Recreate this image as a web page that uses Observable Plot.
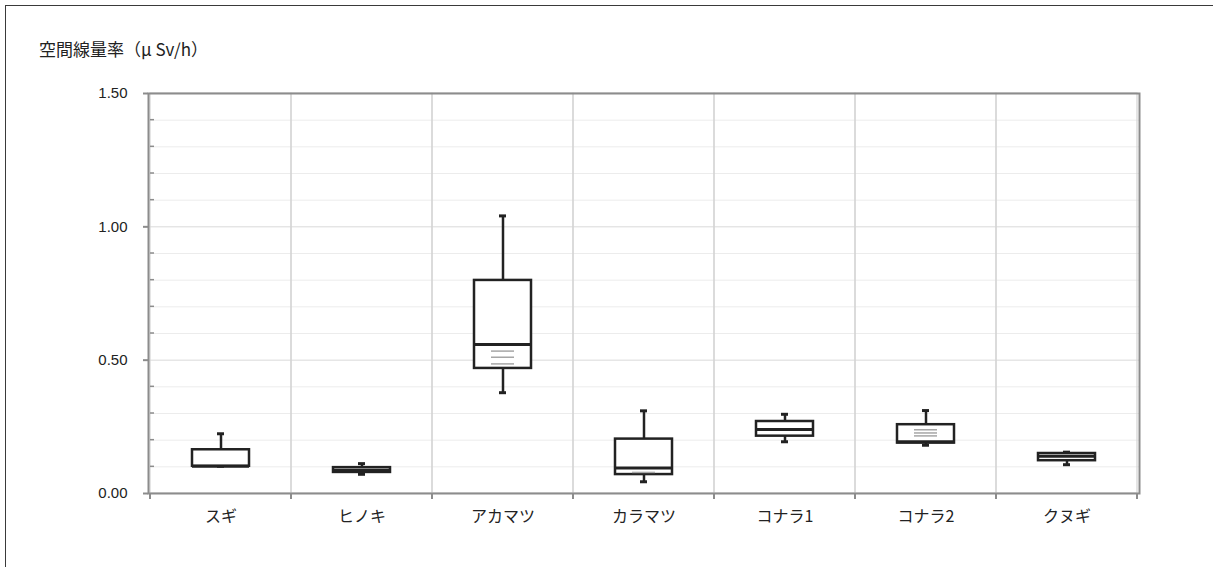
<!DOCTYPE html>
<html>
<head>
<meta charset="utf-8">
<script src="https://cdn.jsdelivr.net/npm/d3@7"></script>
<script src="https://cdn.jsdelivr.net/npm/@observablehq/plot@0.6"></script>
<style>
  html, body { margin: 0; padding: 0; background: #fff; overflow: hidden; }
  #wrap { position: relative; width: 1213px; height: 567px; overflow: hidden; }
  #border { position: absolute; left: 5px; top: 5px; width: 1300px; height: 700px;
            border-left: 1.5px solid #3a3a3a; border-top: 1.5px solid #3a3a3a; pointer-events: none; }
  #title { height: 70px; box-sizing: border-box; padding: 40px 0 0 39px;
           font: 17px "Noto Sans CJK JP", "Liberation Sans", sans-serif; color: #222; line-height: 17px; }
  #chart svg { display: block; }
</style>
</head>
<body>
<div id="wrap">
  <div id="border"></div>
  <div id="title">空間線量率（μ Sv/h）</div>
  <div id="chart"></div>
</div>
<script>
// ---- data ----
const categories = ["スギ", "ヒノキ", "アカマツ", "カラマツ", "コナラ1", "コナラ2", "クヌギ"];
const mins    = [0.102, 0.072, 0.378, 0.044, 0.194, 0.181, 0.108];
const q1s     = [0.102, 0.079, 0.469, 0.071, 0.215, 0.189, 0.123];
const medians = [0.102, 0.087, 0.559, 0.096, 0.240, 0.194, 0.140];
const q3s     = [0.164, 0.097, 0.799, 0.204, 0.270, 0.258, 0.150];
const maxs    = [0.224, 0.112, 1.041, 0.310, 0.297, 0.311, 0.155];

const innerPointCats = ["アカマツ", "アカマツ", "アカマツ", "カラマツ", "コナラ2", "コナラ2", "コナラ2"];
const innerPointVals = [0.534, 0.511, 0.486, 0.079, 0.239, 0.227, 0.216];

const majorTicks = [0, 0.5, 1.0, 1.5];
const minorTicks = [0.1, 0.2, 0.3, 0.4, 0.6, 0.7, 0.8, 0.9, 1.1, 1.2, 1.3, 1.4];

// ---- tables built from the arrays ----
const boxes = categories.map((c, i) => ({cat: c, min: mins[i], q1: q1s[i], med: medians[i], q3: q3s[i], max: maxs[i]}));
const points = innerPointCats.map((c, i) => ({cat: c, v: innerPointVals[i]}));

const W = 1213, H = 497;
const boxInset = 42, capInset = 67, pointInset = 59;
const ink = "#222";

const chart = Plot.plot({
  width: W,
  height: H,
  marginTop: 23,
  marginBottom: 74,
  marginLeft: 148,
  marginRight: 74,
  style: {fontFamily: '"Liberation Sans", "Noto Sans CJK JP", sans-serif', fontSize: "15px", color: "#222", background: "transparent"},
  x: {domain: categories, padding: 0, label: null},
  y: {domain: [0, 1.5], label: null},
  marks: [
    Plot.ruleY(minorTicks, {stroke: "#ececec", strokeWidth: 1}),
    Plot.ruleY([0.5, 1.0], {stroke: "#d9d9d9", strokeWidth: 1}),
    Plot.barY(categories, {x: d => d, y1: () => 0, y2: () => 1.5, fill: "none", stroke: "#d4d4d4", strokeWidth: 1.2}),
    Plot.frame({stroke: "#8c8c8c", strokeWidth: 2}),
    // whiskers
    Plot.ruleX(boxes, {x: "cat", y1: "q3", y2: "max", stroke: ink, strokeWidth: 2.5}),
    Plot.ruleX(boxes, {x: "cat", y1: "min", y2: "q1", stroke: ink, strokeWidth: 2.5}),
    Plot.tickY(boxes, {x: "cat", y: "max", stroke: ink, strokeWidth: 3, inset: capInset}),
    Plot.tickY(boxes, {x: "cat", y: "min", stroke: ink, strokeWidth: 3, inset: capInset}),
    // boxes
    Plot.barY(boxes, {x: "cat", y1: "q1", y2: "q3", fill: "white", stroke: ink, strokeWidth: 2.5, insetLeft: boxInset, insetRight: boxInset}),
    Plot.tickY(points, {x: "cat", y: "v", stroke: "#a6a6a6", strokeWidth: 1.5, inset: pointInset}),
    Plot.tickY(boxes, {x: "cat", y: "med", stroke: ink, strokeWidth: 3, inset: boxInset}),
    // axes
    Plot.axisY({ticks: majorTicks, tickFormat: d3.format(".2f"), tickSize: 5, tickPadding: 16, fontSize: 15, label: null, stroke: "#8c8c8c", strokeWidth: 2}),
    Plot.axisX({tickSize: 0, tickPadding: 17, fontSize: 16, label: null, fontFamily: '"Noto Sans CJK JP", sans-serif'})
  ]
});

document.getElementById("chart").appendChild(chart);

// ticks at band boundaries (x) and inner minor ticks (y), placed via the chart's own scales
const xs = chart.scale("x"), ys = chart.scale("y");
const bounds = categories.map(c => xs.apply(c)).concat([xs.apply(categories[categories.length - 1]) + xs.bandwidth]);
const y0 = ys.apply(0);
const g = d3.select(chart).append("g").attr("stroke", "#8c8c8c").attr("stroke-width", 2);
g.selectAll("line.xt").data(bounds).join("line")
  .attr("x1", d => d).attr("x2", d => d).attr("y1", y0).attr("y2", y0 + 6);
const xl = bounds[0];
g.selectAll("line.yt").data(minorTicks).join("line")
  .attr("x1", xl).attr("x2", xl + 4).attr("y1", d => ys.apply(d)).attr("y2", d => ys.apply(d))
  .attr("stroke-width", 1.5);
</script>
</body>
</html>
